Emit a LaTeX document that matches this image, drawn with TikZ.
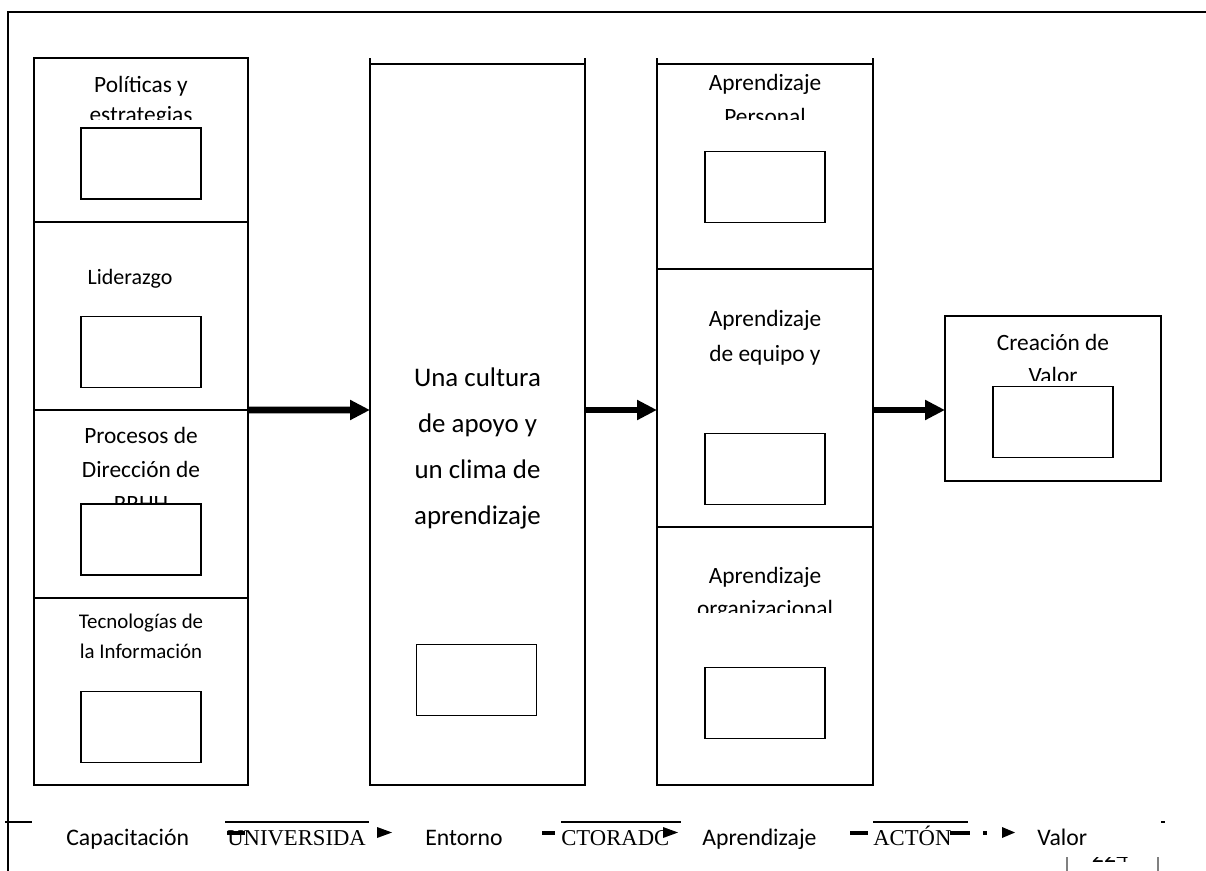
\documentclass[tikz,border=0pt]{standalone}
\usepackage{fontspec}
\setmainfont{Carlito}
\newfontfamily\scrapfont{Liberation Serif}
\usetikzlibrary{positioning, arrows.meta}

\begin{document}
\begin{tikzpicture}[x=0.02cm, y=-0.02cm]
		\tikzstyle{section}=[draw=black, line width=1.1pt, minimum width=4.28cm, inner sep=0pt, outer sep=0pt]
		\tikzstyle{slot}=[draw=black, fill=white, line width=1.1pt, minimum width=2.4cm, minimum height=1.42cm, inner sep=0pt, outer sep=0pt]
		\tikzstyle{lbl}=[font=\fontsize{13.3}{16}\selectfont, inner sep=0pt, anchor=base]
		\tikzstyle{biglbl}=[font=\fontsize{15.3}{18}\selectfont, inner sep=0pt, anchor=base]
		\tikzstyle{btm}=[font=\fontsize{13.5}{16}\selectfont, inner sep=0pt, anchor=base west]
		\tikzstyle{scrap}=[font=\scrapfont\fontsize{12.9}{15}\selectfont, inner sep=0pt, anchor=base west]
		\tikzstyle{bigarrow}=[line width=3.8pt, -{Triangle[length=0.4cm, width=0.38cm]}]

		\useasboundingbox (0,0) rectangle (1206,871);
		\draw [line width=1.1pt] (8,871) -- (8,12) -- (1206,12);

		% left column
		\node (pol) at (141,140) [section, minimum height=3.28cm] {};
		\node (lid) [section, minimum height=3.76cm, below=0pt of pol] {};
		\node (proc) [section, minimum height=3.76cm, below=0pt of lid] {};
		\node (tec) [section, minimum height=3.74cm, below=0pt of proc] {};

		% middle column
		\node (cult) at (477.5,424.5) [section, minimum width=4.3cm, minimum height=14.42cm] {};
		\draw [line width=1.1pt] (cult.north west) -- ++(0,-6);
		\draw [line width=1.1pt] (cult.north east) -- ++(0,-6);

		% third column
		\node (per) at (765,166.5) [section, minimum width=4.32cm, minimum height=4.1cm] {};
		\node (equ) [section, minimum width=4.32cm, minimum height=5.16cm, below=0pt of per] {};
		\node (org) [section, minimum width=4.32cm, minimum height=5.16cm, below=0pt of equ] {};
		\draw [line width=1.1pt] (per.north west) -- ++(0,-6);
		\draw [line width=1.1pt] (per.north east) -- ++(0,-6);

		% right box
		\node (crea) at (1053,398.5) [section, minimum width=4.32cm, minimum height=3.3cm] {};

		% labels
		\begin{scope}
			\clip (pol.north west) rectangle (248,120);
			\node (pol1) at (141,93) [lbl] {Políticas y};
			\node (pol2) at (141,123) [lbl] {estrategias};
		\end{scope}
		\node (lid1) at (130,285) [lbl, font=\fontsize{12.5}{16}\selectfont] {Liderazgo};
		\node (proc1) at (141,443) [lbl] {Procesos de};
		\node (proc2) at (141,477) [lbl] {Dirección de};
		\node (proc3) at (141,511) [lbl] {RRHH};
		\node (tec1) at (141,628) [lbl, font=\fontsize{11.9}{14}\selectfont] {Tecnologías de};
		\node (tec2) at (141,658) [lbl, font=\fontsize{11.9}{14}\selectfont] {la Información};

		\node (cult1) at (477.5,386) [biglbl] {Una cultura};
		\node (cult2) at (477.5,432) [biglbl] {de apoyo y};
		\node (cult3) at (477.5,478) [biglbl] {un clima de};
		\node (cult4) at (477.5,524) [biglbl] {aprendizaje};

		\begin{scope}
			\clip (per.north west) rectangle (873,120);
			\node (per1) at (765,91) [lbl] {Aprendizaje};
			\node (per2) at (765,125) [lbl] {Personal};
		\end{scope}
		\node (equ1) at (765,327) [lbl] {Aprendizaje};
		\node (equ2) at (765,361) [lbl] {de equipo y};
		\begin{scope}
			\clip (org.north west) rectangle (873,612);
			\node (org1) at (765,583) [lbl] {Aprendizaje};
			\node (org2) at (765,616) [lbl] {organizacional};
		\end{scope}
		\begin{scope}
			\clip (crea.north west) rectangle (1161,380);
			\node (crea1) at (1053,350) [lbl] {Creación de};
			\node (crea2) at (1053,383) [lbl] {Valor};
		\end{scope}

		% empty inner boxes
		\node (polbox) at (141,163.5) [slot] {};
		\node (lidbox) at (141,352) [slot] {};
		\node (procbox) at (141,539.5) [slot] {};
		\node (tecbox) at (141,727) [slot] {};
		\node (cultbox) at (476.5,680) [slot] {};
		\node (perbox) at (765,187) [slot] {};
		\node (equbox) at (765,469) [slot] {};
		\node (orgbox) at (765,703) [slot] {};
		\node (creabox) at (1053,422) [slot] {};

		% flow arrows
		\coordinate (flow) at (0,410);
		\draw [bigarrow] (proc.north east) -- (cult.west |- flow);
		\draw [bigarrow] (cult.east |- flow) -- (equ.west |- flow);
		\draw [bigarrow] (equ.east |- flow) -- (crea.west |- flow);

		% bottom row
		\draw [line width=1pt] (5,822) -- (32,822);
		\node (cap) at (66,845) [btm] {Capacitación};
		\draw [line width=0.9pt] (225,822) -- (369,822);
		\node (uni) at (227,845) [scrap] {UNIVERSIDA};
		\draw [line width=2.2pt] (227,833) -- (245,833);
		\fill (377,827) -- (392,832.5) -- (377,838) -- cycle;
		\node (ent) at (425,845) [btm] {Entorno};
		\draw [line width=2.2pt] (542,833) -- (555,833);
		\draw [line width=0.9pt] (561,822) -- (681,822);
		\node (doc) at (561,845) [scrap] {CTORADC};
		\fill (663,827) -- (678,832.5) -- (663,838) -- cycle;
		\node (apr) at (702,845) [btm] {Aprendizaje};
		\draw [line width=2.2pt] (850,833) -- (868,833);
		\draw [line width=0.9pt] (873,822) -- (968,822);
		\node (acc) at (873,845) [scrap] {ACTÓN};
		\draw [line width=2.2pt] (950,833) -- (970,833);
		\fill (983,831) rectangle (987,835);
		\fill (1002,827) -- (1015,832.5) -- (1002,838) -- cycle;
		\node (val) at (1037,845) [btm] {Valor};
		\draw [line width=1pt] (1161,822) -- (1165,822);

		% page number
		\draw [gray, line width=1pt] (1067,857) -- (1067,871);
		\draw [gray, line width=1pt] (1158,857) -- (1158,871);
		\begin{scope}
			\clip (1070,857) rectangle (1150,871);
			\node (page) at (1110,862) [lbl, font=\fontsize{13.5}{16}\selectfont] {224};
		\end{scope}
\end{tikzpicture}
\end{document}
